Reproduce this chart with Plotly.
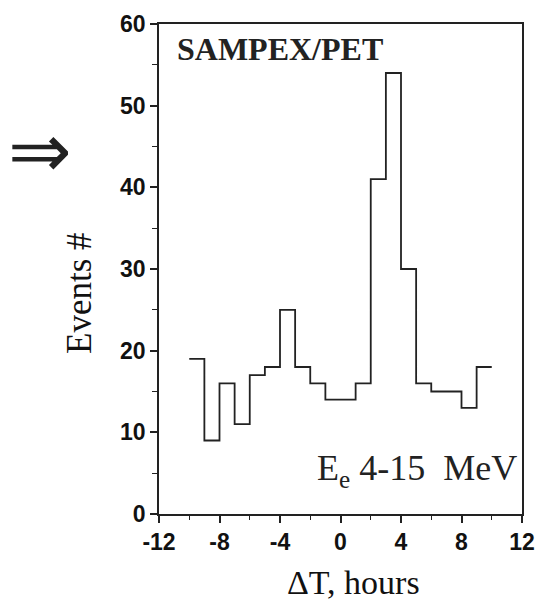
import plotly.graph_objects as go

# Data
bin_edges = [-10, -9, -8, -7, -6, -5, -4, -3, -2, -1, 0, 1, 2, 3, 4, 5, 6, 7, 8, 9, 10]
counts = [19, 9, 16, 11, 17, 18, 25, 18, 16, 14, 14, 16, 41, 54, 30, 16, 15, 15, 13, 18]
x_ticks = [-12, -8, -4, 0, 4, 8, 12]
y_ticks = [0, 10, 20, 30, 40, 50, 60]

W, H = 536, 603
PL, PR, PT, PB = 159, 522, 24, 514   # plot area in page pixels
L, R, T, B = PL, W - PR, PT, H - PB

fig = go.Figure()
fig.add_trace(go.Scatter(
    x=bin_edges, y=counts + [counts[-1]],
    mode="lines", line=dict(shape="hv", color="#222222", width=1.8),
    showlegend=False, hoverinfo="skip"))

tickfont = dict(family="Liberation Sans, Arial", size=23, color="#111111", weight=700)
fig.update_xaxes(range=[-12, 12], tickvals=x_ticks, ticktext=[str(v) for v in x_ticks],
                 ticks="outside", ticklen=7, tickwidth=1.5, tickcolor="#222",
                 showline=True, linecolor="#222", linewidth=1.6, mirror=True, automargin=False,
                 showgrid=False, zeroline=False, tickfont=tickfont,
                 minor=dict(dtick=2, tick0=0, ticks="outside", ticklen=4, tickcolor="#222", tickwidth=1.2))
fig.update_yaxes(range=[0, 60], tickvals=y_ticks, ticktext=[str(v) for v in y_ticks],
                 ticks="outside", ticklen=7, tickwidth=1.5, tickcolor="#222",
                 showline=True, linecolor="#222", linewidth=1.6, mirror=True, automargin=False,
                 showgrid=False, zeroline=False, tickfont=tickfont,
                 minor=dict(dtick=5, tick0=0, ticks="outside", ticklen=5, tickcolor="#222", tickwidth=1.2))

serif = "Liberation Serif, Times New Roman, serif"

def px_x(p):
    return (p - PL) / (PR - PL)

def px_y(p):
    return 1 - (p - PT) / (PB - PT)

anns = [
    dict(text="<b>SAMPEX/PET</b>", x=px_x(175), y=px_y(49), xanchor="left", yanchor="middle",
         font=dict(family=serif, size=32, color="#222")),
    dict(text="E<sub>e</sub> 4-15&nbsp; MeV", x=px_x(519), y=px_y(470), xanchor="right", yanchor="middle",
         font=dict(family=serif, size=36, color="#222")),
    dict(text="ΔT, hours", x=px_x(353), y=px_y(582), xanchor="center", yanchor="middle",
         font=dict(family=serif, size=34, color="#111")),
    dict(text="Events #", x=px_x(79), y=px_y(293), xanchor="center", yanchor="middle", textangle=-90,
         font=dict(family=serif, size=35, color="#111")),
    dict(text="⇒", x=px_x(40), y=px_y(150), xanchor="center", yanchor="middle",
         font=dict(family="DejaVu Sans", size=76, color="#222")),
]
for a in anns:
    a.update(xref="paper", yref="paper", showarrow=False)
fig.update_layout(annotations=anns)

fig.update_layout(width=W, height=H, margin=dict(l=L, r=R, t=T, b=B, autoexpand=False),
                  paper_bgcolor="white", plot_bgcolor="white")
fig.write_html("out.html", config={"displayModeBar": False},
               post_script="document.body.style.margin='0';document.body.style.overflow='hidden';")
